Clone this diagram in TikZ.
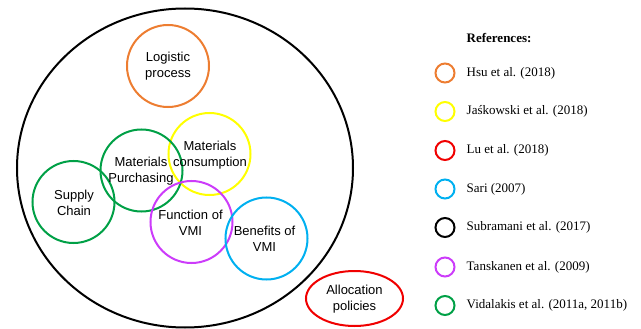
\documentclass[tikz,border=0pt]{standalone}
\usepackage{fontspec}
\setmainfont{Liberation Serif}
\setsansfont{Liberation Sans}
\usetikzlibrary{shapes.geometric}

\definecolor{cOrange}{RGB}{237,125,49}
\definecolor{cYellow}{RGB}{255,255,0}
\definecolor{cRed}{RGB}{240,0,0}
\definecolor{cBlue}{RGB}{0,176,240}
\definecolor{cViolet}{RGB}{204,60,250}
\definecolor{cGreen}{RGB}{0,160,70}

\begin{document}
\begin{tikzpicture}[x=1pt, y=-1pt,
  topic/.style={draw=#1, line width=2pt, circle, minimum size=82pt, inner sep=0pt},
  lbl/.style={font=\sffamily\fontsize{13}{16}\selectfont, align=center, inner sep=0pt},
  refmark/.style={draw=#1, line width=2pt, circle, minimum size=19pt, inner sep=0pt},
  reftext/.style={font=\fontsize{13}{15}\selectfont, anchor=west, inner sep=0pt}]
  \useasboundingbox (0,0) rectangle (641,329);

  % the whole field
  \node[draw, line width=2pt, ellipse, minimum width=336pt, minimum height=319pt, inner sep=0pt]
    (field) at (185,168) {};

  % topics
  \node[topic=cOrange] (logistic) at (168,66) {};
  \node[topic=cYellow] (consump) at (209.5,154) {};
  \node[topic=cGreen]  (purch)   at (141.5,170.5) {};
  \node[topic=cGreen]  (supply)  at (73.5,202) {};
  \node[topic=cViolet] (function) at (191.5,222) {};
  \node[topic=cBlue]   (benefits) at (266.5,238.5) {};
  \node[draw=cRed, line width=2pt, ellipse, minimum width=97pt, minimum height=55pt, inner sep=0pt]
    (alloc) at (354.5,298.5) {};

  \node[lbl] at (168,66.5) {Logistic\\process};
  \node[lbl] at (210,155) {Materials\\consumption};
  \node[lbl] at (141,171) {Materials\\Purchasing};
  \node[lbl] at (74,203) {Supply\\Chain};
  \node[lbl] at (190.5,222.5) {Function of\\VMI};
  \node[lbl] at (264.5,239) {Benefits of\\VMI};
  \node[lbl] at (354.5,299.5) {Allocation\\policies};

  % references
  \node[reftext, font=\bfseries\fontsize{13}{15}\selectfont] (refs) at (466.5,38) {References:};
  \node[refmark=cOrange] (m1) at (445,73) {};
  \node[refmark=cYellow] (m2) at (445,111.5) {};
  \node[refmark=cRed]    (m3) at (445,150.5) {};
  \node[refmark=cBlue]   (m4) at (445,189) {};
  \node[refmark=black]   (m5) at (445,227.5) {};
  \node[refmark=cViolet] (m6) at (445,267) {};
  \node[refmark=cGreen]  (m7) at (445,305.5) {};

  \node[reftext] (t1) at (466.5,73) {Hsu et al. (2018)};
  \node[reftext] (t2) at (466.5,111.5) {Jaśkowski et al. (2018)};
  \node[reftext] (t3) at (466.5,150.5) {Lu et al. (2018)};
  \node[reftext] (t4) at (466.5,189) {Sari (2007)};
  \node[reftext] (t5) at (466.5,227.5) {Subramani et al. (2017)};
  \node[reftext] (t6) at (466.5,267) {Tanskanen et al. (2009)};
  \node[reftext] (t7) at (466.5,305.5) {Vidalakis et al. (2011a, 2011b)};
\end{tikzpicture}
\end{document}
